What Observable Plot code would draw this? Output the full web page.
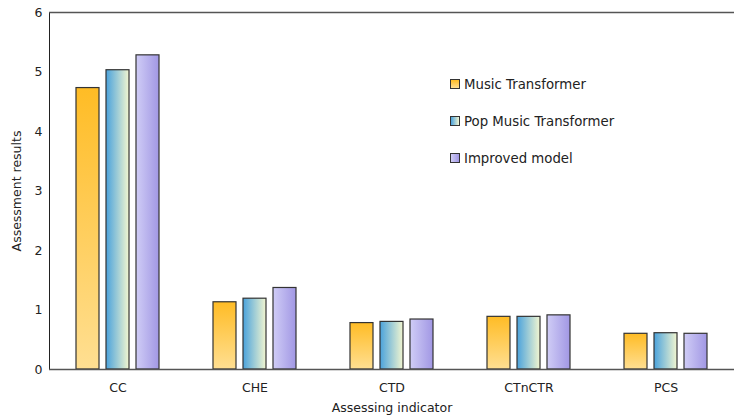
<!DOCTYPE html>
<html>
<head>
<meta charset="utf-8">
<script src="https://cdn.jsdelivr.net/npm/d3@7"></script>
<script src="https://cdn.jsdelivr.net/npm/@observablehq/plot@0.6"></script>
<style>
  body { margin: 0; background: #fff; font-family: "DejaVu Sans", Verdana, sans-serif; }
  #chart { position: relative; width: 735px; height: 418px; }
  .legend { position: absolute; left: 450px; top: 75px; font-size: 13.3px; color: #222; }
  .legend .row { display: flex; align-items: center; height: 18px; margin-bottom: 19px; white-space: nowrap; }
  .legend .swatch { width: 8px; height: 8px; border: 1px solid #333; margin-right: 4px; box-sizing: content-box; }
</style>
</head>
<body>
<div id="chart"></div>
<script>
// Assessment results of three music generation models on five indicators
const indicators = ["CC", "CHE", "CTD", "CTnCTR", "PCS"];
const models = ["Music Transformer", "Pop Music Transformer", "Improved model"];
const musicTransformer = [4.73, 1.13, 0.78, 0.885, 0.60];
const popMusicTransformer = [5.03, 1.19, 0.80, 0.885, 0.61];
const improvedModel = [5.28, 1.37, 0.84, 0.91, 0.60];
const yTicks = [0, 1, 2, 3, 4, 5, 6];

// gradient fills, one per model
const gradients = [
  { id: "g-mt", x2: "0", y2: "1", stops: ["#ffbc25", "#ffdf92"] },
  { id: "g-pmt", x2: "1", y2: "0", stops: ["#4aa2dc", "#f2f6d0"] },
  { id: "g-im", x2: "1", y2: "0", stops: ["#d0cdf6", "#a197e4"] }
];
const cssGradients = [
  "linear-gradient(to bottom, #ffbc25, #ffdf92)",
  "linear-gradient(to right, #4aa2dc, #f2f6d0)",
  "linear-gradient(to right, #d0cdf6, #a197e4)"
];

const seriesValues = [musicTransformer, popMusicTransformer, improvedModel];
const rows = models.flatMap((model, m) =>
  indicators.map((indicator, i) => ({ indicator, model, value: seriesValues[m][i] }))
);

const bars = models.map((model, m) =>
  Plot.barY(rows.filter(d => d.model === model), {
    fx: "indicator",
    x: "model",
    y: "value",
    fill: `url(#${gradients[m].id})`,
    stroke: "#333",
    strokeWidth: 1.2
  })
);

const plot = Plot.plot({
  width: 735,
  height: 418,
  marginTop: 12,
  marginBottom: 49,
  marginLeft: 47,
  marginRight: 0,
  style: { fontFamily: "DejaVu Sans, Verdana, sans-serif", fontSize: "12.5px", color: "#222" },
  fx: {
    domain: indicators,
    padding: 0,
    axis: "bottom",
    tickSize: 0,
    tickPadding: 14,
    label: "Assessing indicator",
    labelAnchor: "center",
    labelOffset: 42
  },
  x: { domain: models, paddingInner: 0.23, paddingOuter: 0.83, axis: null },
  y: {
    domain: [0, 6],
    ticks: yTicks,
    tickFormat: d3.format("d"),
    tickSize: 0,
    tickPadding: 7,
    line: true,
    label: "Assessment results",
    labelAnchor: "center",
    labelArrow: false,
    labelOffset: 37
  },
  marks: [
    ...bars,
    Plot.ruleY([0], { stroke: "#555", strokeWidth: 1.5 }),
    Plot.ruleY([6], { stroke: "#555", strokeWidth: 1.5 })
  ]
});

const defs = d3.select(plot).insert("defs", ":first-child");
for (const g of gradients) {
  const lg = defs.append("linearGradient")
    .attr("id", g.id)
    .attr("x1", "0").attr("y1", "0")
    .attr("x2", g.x2).attr("y2", g.y2);
  lg.append("stop").attr("offset", "0").attr("stop-color", g.stops[0]);
  lg.append("stop").attr("offset", "1").attr("stop-color", g.stops[1]);
}

const chart = document.getElementById("chart");
chart.appendChild(plot);

const legend = document.createElement("div");
legend.className = "legend";
models.forEach((model, m) => {
  const row = document.createElement("div");
  row.className = "row";
  const sw = document.createElement("span");
  sw.className = "swatch";
  sw.style.background = cssGradients[m];
  const label = document.createElement("span");
  label.textContent = model;
  row.append(sw, label);
  legend.appendChild(row);
});
chart.appendChild(legend);
</script>
</body>
</html>
